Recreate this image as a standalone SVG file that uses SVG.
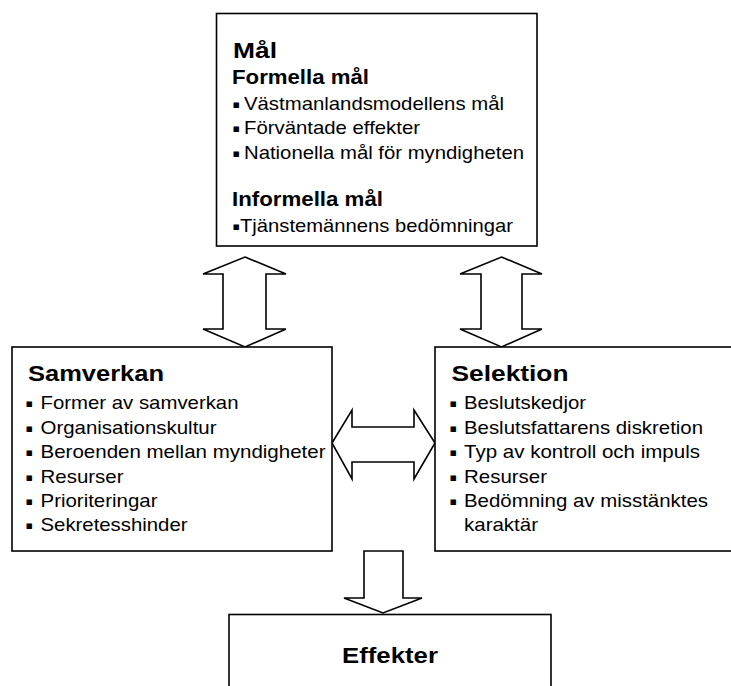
<svg xmlns="http://www.w3.org/2000/svg" width="731" height="686" viewBox="0 0 731 686">
<style>
.box{fill:#fff;stroke:#000;stroke-width:1.6}
.arr{fill:#fff;stroke:#000;stroke-width:1.6;stroke-linejoin:miter}
.t{font-family:"Liberation Sans",Arial,Helvetica,sans-serif;fill:#000}
.h1{font-size:22.5px;font-weight:bold}
.h2{font-size:19.5px;font-weight:bold}
.li{font-size:18.5px}
.bu{font-family:"DejaVu Sans",sans-serif;font-size:11px;fill:#000}
</style>
<rect width="731" height="686" fill="#fff"/>
<g id="connectors">
<polygon class="arr" points="245,257 286,274 266,274 266,329 286,329 245,347 203,329 223,329 223,274 203,274"/>
<polygon class="arr" points="501.5,257 542,274 522,274 522,329 542,329 501.5,347 460,329 481,329 481,274 460,274"/>
<polygon class="arr" points="332,443 352,410 352,427 414,427 414,410 435,443 414,479 414,462 352,462 352,479"/>
<polygon class="arr" points="364,551 403,551 403,598 422,598 383,613 344,598 364,598"/>
</g>
<g id="mal">
<rect class="box" x="216.5" y="13.5" width="320.5" height="232.5"/>
<text class="t h1" x="233" y="58" textLength="44" lengthAdjust="spacingAndGlyphs">Mål</text>
<text class="t h2" x="232" y="83.5" textLength="137" lengthAdjust="spacingAndGlyphs">Formella mål</text>
<text class="bu" x="232.5" y="107.5">▪</text><text class="t li" x="244" y="109.5" textLength="260" lengthAdjust="spacingAndGlyphs">Västmanlandsmodellens mål</text>
<text class="bu" x="232.5" y="132">▪</text><text class="t li" x="244" y="134" textLength="176" lengthAdjust="spacingAndGlyphs">Förväntade effekter</text>
<text class="bu" x="232.5" y="156.5">▪</text><text class="t li" x="244" y="158.5" textLength="280" lengthAdjust="spacingAndGlyphs">Nationella mål för myndigheten</text>
<text class="t h2" x="232" y="206" textLength="151" lengthAdjust="spacingAndGlyphs">Informella mål</text>
<text class="bu" x="232.5" y="230">▪</text><text class="t li" x="240" y="232" textLength="273" lengthAdjust="spacingAndGlyphs">Tjänstemännens bedömningar</text>
</g>
<g id="samverkan">
<rect class="box" x="12" y="347" width="320" height="204"/>
<text class="t h1" x="28" y="380.5" textLength="136" lengthAdjust="spacingAndGlyphs">Samverkan</text>
<text class="bu" x="25.5" y="407">▪</text><text class="t li" x="40.5" y="409" textLength="198" lengthAdjust="spacingAndGlyphs">Former av samverkan</text>
<text class="bu" x="25.5" y="431.5">▪</text><text class="t li" x="40.5" y="433.5" textLength="176" lengthAdjust="spacingAndGlyphs">Organisationskultur</text>
<text class="bu" x="25.5" y="456">▪</text><text class="t li" x="40.5" y="458" textLength="285" lengthAdjust="spacingAndGlyphs">Beroenden mellan myndigheter</text>
<text class="bu" x="25.5" y="480.5">▪</text><text class="t li" x="40.5" y="482.5" textLength="83" lengthAdjust="spacingAndGlyphs">Resurser</text>
<text class="bu" x="25.5" y="505">▪</text><text class="t li" x="40.5" y="507" textLength="117" lengthAdjust="spacingAndGlyphs">Prioriteringar</text>
<text class="bu" x="25.5" y="529">▪</text><text class="t li" x="40.5" y="531" textLength="147" lengthAdjust="spacingAndGlyphs">Sekretesshinder</text>
</g>
<g id="selektion">
<rect class="box" x="435" y="347" width="310" height="204"/>
<text class="t h1" x="451.5" y="380.5" textLength="117" lengthAdjust="spacingAndGlyphs">Selektion</text>
<text class="bu" x="449.5" y="407">▪</text><text class="t li" x="464" y="409" textLength="122" lengthAdjust="spacingAndGlyphs">Beslutskedjor</text>
<text class="bu" x="449.5" y="431.5">▪</text><text class="t li" x="464" y="433.5" textLength="239" lengthAdjust="spacingAndGlyphs">Beslutsfattarens diskretion</text>
<text class="bu" x="449.5" y="456">▪</text><text class="t li" x="464" y="458" textLength="236" lengthAdjust="spacingAndGlyphs">Typ av kontroll och impuls</text>
<text class="bu" x="449.5" y="480.5">▪</text><text class="t li" x="464" y="482.5" textLength="83" lengthAdjust="spacingAndGlyphs">Resurser</text>
<text class="bu" x="449.5" y="505">▪</text><text class="t li" x="464" y="507" textLength="244" lengthAdjust="spacingAndGlyphs">Bedömning av misstänktes</text>
<text class="t li" x="464" y="531" textLength="74" lengthAdjust="spacingAndGlyphs">karaktär</text>
</g>
<g id="effekter">
<rect class="box" x="229" y="614.5" width="322" height="90"/>
<text class="t h1" x="342" y="663" textLength="96" lengthAdjust="spacingAndGlyphs">Effekter</text>
</g>
</svg>
